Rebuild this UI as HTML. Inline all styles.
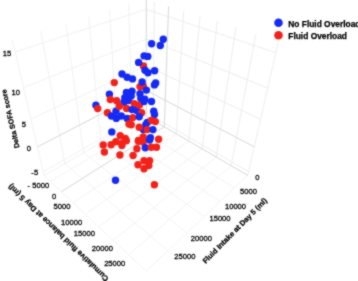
<!DOCTYPE html>
<html><head><meta charset="utf-8"><style>
html,body{margin:0;padding:0;background:#fff;}
body{width:358px;height:281px;overflow:hidden;position:relative;}
svg{position:absolute;left:0;top:0;will-change:transform;}
text{font-family:"Liberation Sans",sans-serif;fill:#000;} text[font-weight=bold]{stroke:#000;stroke-width:0.25px;} .t{stroke:#000;stroke-width:0.3px;}
</style></head><body>
<svg width="358" height="281" viewBox="0 0 358 281">
<defs><filter id="soft" color-interpolation-filters="sRGB" filterUnits="userSpaceOnUse" x="0" y="0" width="358" height="281"><feConvolveMatrix order="3" kernelMatrix="1 2 1 2 12 2 1 2 1" divisor="24" edgeMode="duplicate"/></filter></defs>
<g filter="url(#soft)">
<rect width="358" height="281" fill="#fff"/>
<g fill="none">
<line x1="152.88" y1="120.20" x2="50.30" y2="181.47" stroke="#f0f0f0" stroke-width="0.8"/>
<line x1="176.23" y1="133.77" x2="72.96" y2="202.69" stroke="#f0f0f0" stroke-width="0.8"/>
<line x1="188.85" y1="141.10" x2="85.46" y2="214.39" stroke="#f0f0f0" stroke-width="0.8"/>
<line x1="202.17" y1="148.84" x2="98.86" y2="226.93" stroke="#f0f0f0" stroke-width="0.8"/>
<line x1="216.26" y1="157.03" x2="113.24" y2="240.40" stroke="#f0f0f0" stroke-width="0.8"/>
<line x1="231.18" y1="165.70" x2="128.73" y2="254.90" stroke="#f0f0f0" stroke-width="0.8"/>
<line x1="247.73" y1="175.32" x2="146.24" y2="271.30" stroke="#f0f0f0" stroke-width="0.8"/>
<line x1="132.21" y1="124.57" x2="234.41" y2="187.93" stroke="#f0f0f0" stroke-width="0.8"/>
<line x1="117.11" y1="133.32" x2="219.92" y2="201.63" stroke="#f0f0f0" stroke-width="0.8"/>
<line x1="100.93" y1="142.69" x2="204.13" y2="216.56" stroke="#f0f0f0" stroke-width="0.8"/>
<line x1="83.54" y1="152.75" x2="186.83" y2="232.92" stroke="#f0f0f0" stroke-width="0.8"/>
<line x1="64.81" y1="163.60" x2="167.81" y2="250.91" stroke="#f0f0f0" stroke-width="0.8"/>
<line x1="44.05" y1="175.62" x2="146.24" y2="271.30" stroke="#f0f0f0" stroke-width="0.8"/>
<line x1="132.21" y1="124.57" x2="128.70" y2="4.62" stroke="#ededed" stroke-width="0.8"/>
<line x1="117.11" y1="133.32" x2="109.59" y2="10.38" stroke="#ededed" stroke-width="0.8"/>
<line x1="100.93" y1="142.69" x2="88.75" y2="16.67" stroke="#ededed" stroke-width="0.8"/>
<line x1="83.54" y1="152.75" x2="65.93" y2="23.55" stroke="#ededed" stroke-width="0.8"/>
<line x1="64.81" y1="163.60" x2="40.83" y2="31.13" stroke="#ededed" stroke-width="0.8"/>
<line x1="44.05" y1="175.62" x2="12.36" y2="39.72" stroke="#ededed" stroke-width="0.8"/>
<line x1="146.34" y1="116.39" x2="44.05" y2="175.62" stroke="#ededed" stroke-width="0.8"/>
<line x1="146.34" y1="112.96" x2="43.17" y2="171.85" stroke="#ededed" stroke-width="0.8"/>
<line x1="146.31" y1="65.96" x2="30.85" y2="119.01" stroke="#ededed" stroke-width="0.8"/>
<line x1="146.30" y1="39.00" x2="23.52" y2="87.57" stroke="#ededed" stroke-width="0.8"/>
<line x1="146.28" y1="9.25" x2="15.20" y2="51.88" stroke="#ededed" stroke-width="0.8"/>
<line x1="152.88" y1="120.20" x2="154.38" y2="1.85" stroke="#e9e9e9" stroke-width="0.8"/>
<line x1="176.23" y1="133.77" x2="183.78" y2="11.05" stroke="#e9e9e9" stroke-width="0.8"/>
<line x1="188.85" y1="141.10" x2="199.98" y2="16.12" stroke="#e9e9e9" stroke-width="0.8"/>
<line x1="202.17" y1="148.84" x2="217.33" y2="21.55" stroke="#e9e9e9" stroke-width="0.8"/>
<line x1="216.26" y1="157.03" x2="235.96" y2="27.38" stroke="#e9e9e9" stroke-width="0.8"/>
<line x1="231.18" y1="165.70" x2="256.01" y2="33.65" stroke="#e9e9e9" stroke-width="0.8"/>
<line x1="247.73" y1="175.32" x2="278.66" y2="40.74" stroke="#e9e9e9" stroke-width="0.8"/>
<line x1="146.34" y1="112.96" x2="248.59" y2="171.58" stroke="#e9e9e9" stroke-width="0.8"/>
<line x1="146.31" y1="65.96" x2="260.63" y2="119.19" stroke="#e9e9e9" stroke-width="0.8"/>
<line x1="146.30" y1="39.00" x2="267.79" y2="88.06" stroke="#e9e9e9" stroke-width="0.8"/>
<line x1="146.28" y1="9.25" x2="275.90" y2="52.77" stroke="#e9e9e9" stroke-width="0.8"/>
<line x1="164.26" y1="126.81" x2="61.27" y2="191.74" stroke="#d8d8d8" stroke-width="1.0"/>
<line x1="146.34" y1="116.39" x2="247.73" y2="175.32" stroke="#d8d8d8" stroke-width="1.0"/>
<line x1="146.34" y1="116.39" x2="146.27" y2="-0.68" stroke="#d8d8d8" stroke-width="1.0"/>
<line x1="164.26" y1="126.81" x2="168.61" y2="6.31" stroke="#d8d8d8" stroke-width="1.0"/>
<line x1="146.32" y1="90.51" x2="37.36" y2="146.92" stroke="#d8d8d8" stroke-width="1.0"/>
<line x1="146.32" y1="90.51" x2="254.28" y2="146.84" stroke="#d8d8d8" stroke-width="1.0"/>
</g>
<g>
<circle cx="163.3" cy="39.3" r="3.7" fill="#162af5"/>
<circle cx="160.3" cy="45.5" r="3.7" fill="#162af5"/>
<circle cx="151.6" cy="43.8" r="3.7" fill="#162af5"/>
<circle cx="144.1" cy="55.9" r="3.7" fill="#162af5"/>
<circle cx="147.8" cy="56.4" r="3.7" fill="#162af5"/>
<circle cx="143.4" cy="65.9" r="3.7" fill="#f2221a"/>
<circle cx="138.6" cy="62.4" r="3.7" fill="#162af5"/>
<circle cx="145.0" cy="70.2" r="3.7" fill="#162af5"/>
<circle cx="148.0" cy="72.8" r="3.7" fill="#162af5"/>
<circle cx="154.6" cy="70.8" r="3.7" fill="#162af5"/>
<circle cx="122.0" cy="74.0" r="3.7" fill="#162af5"/>
<circle cx="127.1" cy="77.2" r="3.7" fill="#162af5"/>
<circle cx="132.5" cy="78.9" r="3.7" fill="#162af5"/>
<circle cx="114.3" cy="82.6" r="3.7" fill="#f2221a"/>
<circle cx="140.0" cy="86.6" r="3.7" fill="#f2221a"/>
<circle cx="143.2" cy="86.2" r="3.7" fill="#f2221a"/>
<circle cx="142.1" cy="82.0" r="3.7" fill="#162af5"/>
<circle cx="155.7" cy="83.0" r="3.7" fill="#162af5"/>
<circle cx="154.4" cy="84.9" r="3.7" fill="#162af5"/>
<circle cx="146.4" cy="90.1" r="3.7" fill="#162af5"/>
<circle cx="132.0" cy="91.3" r="3.7" fill="#162af5"/>
<circle cx="126.4" cy="92.5" r="3.7" fill="#162af5"/>
<circle cx="109.4" cy="94.3" r="3.7" fill="#162af5"/>
<circle cx="124.8" cy="97.7" r="3.7" fill="#162af5"/>
<circle cx="131.2" cy="96.1" r="3.7" fill="#162af5"/>
<circle cx="140.0" cy="93.7" r="3.7" fill="#162af5"/>
<circle cx="140.8" cy="98.5" r="3.7" fill="#162af5"/>
<circle cx="144.8" cy="99.3" r="3.7" fill="#162af5"/>
<circle cx="151.5" cy="101.5" r="3.7" fill="#162af5"/>
<circle cx="116.0" cy="111.2" r="3.7" fill="#162af5"/>
<circle cx="128.5" cy="100.5" r="3.7" fill="#162af5"/>
<circle cx="136.8" cy="110.5" r="3.7" fill="#162af5"/>
<circle cx="110.3" cy="99.5" r="3.7" fill="#f2221a"/>
<circle cx="116.7" cy="100.8" r="3.7" fill="#f2221a"/>
<circle cx="134.2" cy="103.6" r="3.7" fill="#f2221a"/>
<circle cx="139.5" cy="104.9" r="3.7" fill="#f2221a"/>
<circle cx="124.0" cy="102.2" r="3.7" fill="#162af5"/>
<circle cx="119.3" cy="106.2" r="3.7" fill="#f2221a"/>
<circle cx="95.9" cy="105.3" r="3.7" fill="#162af5"/>
<circle cx="97.7" cy="108.6" r="3.7" fill="#f2221a"/>
<circle cx="126.6" cy="108.5" r="3.7" fill="#f2221a"/>
<circle cx="144.0" cy="101.6" r="3.7" fill="#162af5"/>
<circle cx="107.4" cy="112.8" r="3.7" fill="#f2221a"/>
<circle cx="111.4" cy="116.0" r="3.7" fill="#162af5"/>
<circle cx="116.3" cy="118.4" r="3.7" fill="#162af5"/>
<circle cx="121.3" cy="116.0" r="3.7" fill="#162af5"/>
<circle cx="127.2" cy="118.4" r="3.7" fill="#162af5"/>
<circle cx="132.0" cy="109.6" r="3.7" fill="#162af5"/>
<circle cx="141.6" cy="112.8" r="3.7" fill="#f2221a"/>
<circle cx="153.7" cy="111.2" r="3.7" fill="#162af5"/>
<circle cx="154.5" cy="114.4" r="3.7" fill="#162af5"/>
<circle cx="132.8" cy="117.6" r="3.7" fill="#f2221a"/>
<circle cx="139.2" cy="116.8" r="3.7" fill="#162af5"/>
<circle cx="147.2" cy="122.4" r="3.7" fill="#162af5"/>
<circle cx="151.3" cy="120.5" r="3.7" fill="#f2221a"/>
<circle cx="155.3" cy="121.6" r="3.7" fill="#f2221a"/>
<circle cx="143.3" cy="129.5" r="3.7" fill="#162af5"/>
<circle cx="145.8" cy="124.6" r="3.7" fill="#162af5"/>
<circle cx="129.0" cy="124.0" r="3.7" fill="#f2221a"/>
<circle cx="131.2" cy="124.8" r="3.7" fill="#f2221a"/>
<circle cx="139.2" cy="127.2" r="3.7" fill="#f2221a"/>
<circle cx="147.2" cy="129.6" r="3.7" fill="#f2221a"/>
<circle cx="152.9" cy="129.6" r="3.7" fill="#162af5"/>
<circle cx="111.8" cy="131.9" r="3.7" fill="#162af5"/>
<circle cx="120.2" cy="135.8" r="3.7" fill="#f2221a"/>
<circle cx="125.3" cy="138.5" r="3.7" fill="#f2221a"/>
<circle cx="143.2" cy="136.9" r="3.7" fill="#f2221a"/>
<circle cx="138.4" cy="140.5" r="3.7" fill="#f2221a"/>
<circle cx="150.4" cy="137.7" r="3.7" fill="#162af5"/>
<circle cx="158.6" cy="139.3" r="3.7" fill="#f2221a"/>
<circle cx="115.8" cy="141.7" r="3.7" fill="#f2221a"/>
<circle cx="111.1" cy="144.8" r="3.7" fill="#f2221a"/>
<circle cx="103.2" cy="144.9" r="3.7" fill="#f2221a"/>
<circle cx="122.0" cy="143.5" r="3.7" fill="#f2221a"/>
<circle cx="126.4" cy="140.8" r="3.7" fill="#f2221a"/>
<circle cx="138.4" cy="141.3" r="3.7" fill="#f2221a"/>
<circle cx="143.2" cy="141.9" r="3.7" fill="#f2221a"/>
<circle cx="149.6" cy="140.0" r="3.7" fill="#162af5"/>
<circle cx="121.9" cy="145.6" r="3.7" fill="#f2221a"/>
<circle cx="104.4" cy="152.0" r="3.7" fill="#f2221a"/>
<circle cx="119.9" cy="155.0" r="3.7" fill="#f2221a"/>
<circle cx="133.1" cy="155.5" r="3.7" fill="#f2221a"/>
<circle cx="136.9" cy="148.8" r="3.7" fill="#f2221a"/>
<circle cx="145.3" cy="147.7" r="3.7" fill="#162af5"/>
<circle cx="151.3" cy="147.2" r="3.7" fill="#f2221a"/>
<circle cx="156.5" cy="147.2" r="3.7" fill="#f2221a"/>
<circle cx="144.0" cy="160.8" r="3.7" fill="#f2221a"/>
<circle cx="149.6" cy="160.8" r="3.7" fill="#f2221a"/>
<circle cx="138.0" cy="164.8" r="3.7" fill="#f2221a"/>
<circle cx="144.0" cy="168.8" r="3.7" fill="#f2221a"/>
<circle cx="148.8" cy="165.6" r="3.7" fill="#f2221a"/>
<circle cx="154.4" cy="184.8" r="3.7" fill="#f2221a"/>
<circle cx="115.5" cy="180.3" r="3.7" fill="#162af5"/>
</g>
<text class="t" font-size="8.0" text-anchor="middle" transform="translate(6.95 55.75) scale(0.95 1)">15</text>
<text class="t" font-size="8.0" text-anchor="middle" transform="translate(15.85 95.20) scale(0.95 1)">10</text>
<text class="t" font-size="8.0" text-anchor="middle" transform="translate(23.85 127.00) scale(0.95 1)">5</text>
<text class="t" font-size="8.0" text-anchor="middle" transform="translate(28.90 151.15) scale(0.95 1)">0</text>
<text class="t" font-size="8.0" text-anchor="middle" transform="translate(34.75 174.50) scale(0.95 1)">-5</text>
<text class="t" font-size="8.0" text-anchor="middle" transform="translate(38.35 188.00) scale(0.95 1)">- 5000</text>
<text class="t" font-size="8.0" text-anchor="middle" transform="translate(54.20 199.10) scale(0.95 1)">0</text>
<text class="t" font-size="8.0" text-anchor="middle" transform="translate(61.95 208.95) scale(0.95 1)">5000</text>
<text class="t" font-size="8.0" text-anchor="middle" transform="translate(71.55 224.60) scale(0.95 1)">10000</text>
<text class="t" font-size="8.0" text-anchor="middle" transform="translate(84.40 236.05) scale(0.95 1)">15000</text>
<text class="t" font-size="8.0" text-anchor="middle" transform="translate(102.35 251.40) scale(0.95 1)">20000</text>
<text class="t" font-size="8.0" text-anchor="middle" transform="translate(114.70 265.80) scale(0.95 1)">25000</text>
<text class="t" font-size="8.0" text-anchor="middle" transform="translate(257.35 180.25) scale(0.95 1)">0</text>
<text class="t" font-size="8.0" text-anchor="middle" transform="translate(248.45 194.40) scale(0.95 1)">5000</text>
<text class="t" font-size="8.0" text-anchor="middle" transform="translate(235.50 209.10) scale(0.95 1)">10000</text>
<text class="t" font-size="8.0" text-anchor="middle" transform="translate(220.00 221.25) scale(0.95 1)">15000</text>
<text class="t" font-size="8.0" text-anchor="middle" transform="translate(201.40 240.60) scale(0.95 1)">20000</text>
<text class="t" font-size="8.0" text-anchor="middle" transform="translate(184.85 258.55) scale(0.95 1)">25000</text>
<text font-size="7.2" font-weight="bold" text-anchor="middle" transform="translate(12.80 118.30) rotate(-103)">Delta SOFA score</text>
<text font-size="7.58" font-weight="bold" text-anchor="middle" transform="translate(60.10 230.85) rotate(224.1)">Cumulative fluid balance at Day 5 (ml)</text>
<text font-size="7.5" font-weight="bold" text-anchor="middle" transform="translate(236.60 232.45) rotate(-45.5)">Fluid Intake at Day 5 (ml)</text>
<circle cx="278.5" cy="22.7" r="4.3" fill="#162af5"/>
<circle cx="278.5" cy="35.3" r="4.3" fill="#f2221a"/>
<text font-size="8.4" font-weight="bold" text-anchor="start" transform="translate(288.30 27.40)">No Fluid Overload</text>
<text font-size="8.4" font-weight="bold" text-anchor="start" transform="translate(288.30 38.70)">Fluid Overload</text>
</g>
</svg>
</body></html>
